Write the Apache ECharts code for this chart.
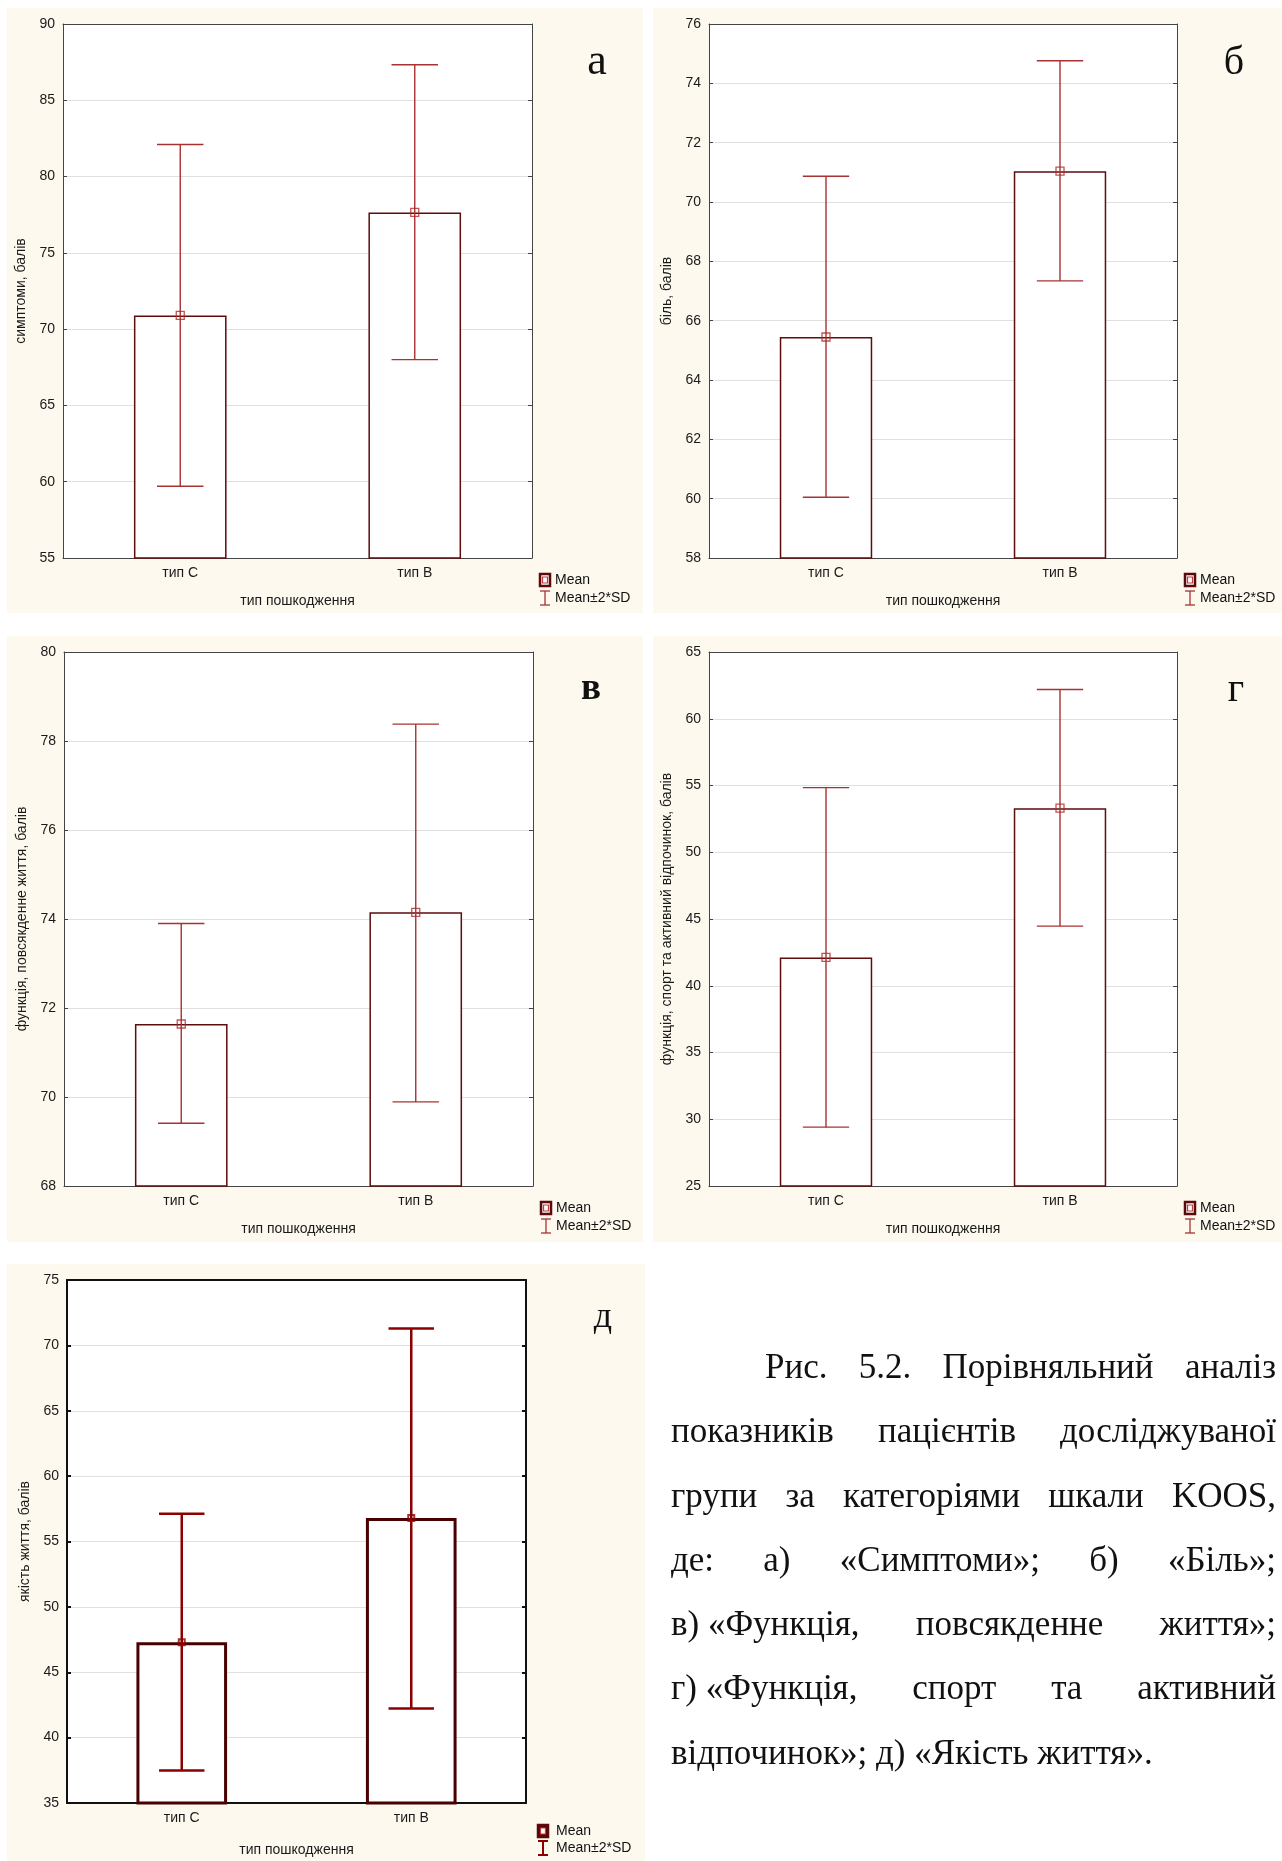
<!DOCTYPE html>
<html><head><meta charset="utf-8">
<script src="https://cdn.jsdelivr.net/npm/echarts/dist/echarts.min.js"></script>
<style>
html,body{margin:0;padding:0;background:#fff;}
#chart{position:absolute;left:0;top:0;width:1282px;height:1861px;}
#caption{position:absolute;left:671px;top:1335px;width:605px;font-family:"Liberation Serif","Times New Roman",serif;font-size:35px;line-height:64.3px;color:#111;}
#caption .l{text-align:justify;text-align-last:justify;}
#caption .first{padding-left:94px;}
#caption .last{text-align:left;text-align-last:left;}
#caption .nb{display:inline-block;white-space:pre;}
</style></head>
<body>
<div id="chart"></div>
<div id="caption">
<div class="l first">Рис. 5.2. Порівняльний аналіз</div>
<div class="l">показників пацієнтів досліджуваної</div>
<div class="l">групи за категоріями шкали KOOS,</div>
<div class="l">де: а) «Симптоми»; б) «Біль»;</div>
<div class="l"><span class="nb">в) «Функція,</span> повсякденне життя»;</div>
<div class="l"><span class="nb">г) «Функція,</span> спорт та активний</div>
<div class="l last">відпочинок»; д) «Якість життя».</div>
</div>
<script>
// ---- data ----
const categories = ['тип С', 'тип В'];
const meanSymptoms = [70.9, 77.65];
const lowSymptoms = [59.7, 68.0];
const highSymptoms = [82.1, 87.33];
const meanPain = [65.45, 71.04];
const lowPain = [60.05, 67.34];
const highPain = [70.87, 74.76];
const meanDaily = [71.64, 74.15];
const lowDaily = [69.41, 69.89];
const highDaily = [73.9, 78.38];
const meanSport = [42.12, 53.3];
const lowSport = [29.41, 44.47];
const highSport = [54.84, 62.19];
const meanQol = [47.3, 56.8];
const lowQol = [37.48, 42.22];
const highQol = [57.12, 71.3];
const yTitles = ['симптоми, балів', 'біль, балів', 'функція, повсякденне життя, балів', 'функція, спорт та активний відпочинок, балів', 'якість життя, балів'];
const xTitle = 'тип пошкодження';
const yMins = [55, 58, 68, 25, 35];
const yMaxs = [90, 76, 80, 65, 75];
const ySteps = [5, 2, 2, 5, 5];
const panelLetters = ['а', 'б', 'в', 'г', 'д'];
const legendNames = ['Mean', 'Mean±2*SD'];

const means = [meanSymptoms, meanPain, meanDaily, meanSport, meanQol];
const lows = [lowSymptoms, lowPain, lowDaily, lowSport, lowQol];
const highs = [highSymptoms, highPain, highDaily, highSport, highQol];

// ---- layout ----
const grids = [
  {left: 63, top: 24, width: 469, height: 534},
  {left: 709, top: 24, width: 468, height: 534},
  {left: 64, top: 652, width: 469, height: 534},
  {left: 709, top: 652, width: 468, height: 534},
  {left: 67, top: 1280, width: 459, height: 523}
];
const bgs = [[7, 8, 636, 605], [653, 8, 629, 605], [7, 636, 636, 606], [653, 636, 629, 606], [7, 1264, 638, 597]];
const letterPos = [[597, 62, 44, 'normal'], [1234, 63, 40, 'normal'], [591, 689, 37, 'bold'], [1236, 690, 40, 'normal'], [603, 1318, 36, 'normal']];
const FONT = '"Liberation Sans", Arial, sans-serif';
const CREAM = '#fdf9ef';

const xAxes = [], yAxes = [], series = [], graphics = [];
grids.forEach((g, i) => {
  const thick = i === 4;
  const frame = thick ? '#111' : '#444';
  const frameW = thick ? 2 : 1;
  const barBorder = thick ? '#4a0000' : '#5e0c0c';
  const errColor = thick ? '#8b0000' : '#a83232';
  const errW = thick ? 2.5 : 1.4;
  const tickStyle = {inside: true, length: 4, lineStyle: {color: frame, width: frameW}};
  xAxes.push({
    type: 'category', gridIndex: i, data: categories, position: 'bottom',
    axisLine: {lineStyle: {color: frame, width: frameW}},
    axisTick: Object.assign({alignWithLabel: true}, tickStyle),
    axisLabel: {fontSize: 14, color: '#1a1a1a', margin: 8, fontFamily: FONT},
    name: xTitle, nameLocation: 'middle', nameGap: thick ? 40 : 36,
    nameTextStyle: {fontSize: 14, color: '#1a1a1a', fontFamily: FONT}
  });
  xAxes.push({
    type: 'category', gridIndex: i, data: categories, position: 'top',
    axisLine: {lineStyle: {color: frame, width: frameW}},
    axisTick: Object.assign({alignWithLabel: true}, tickStyle),
    axisLabel: {show: false}
  });
  yAxes.push({
    type: 'value', gridIndex: i, min: yMins[i], max: yMaxs[i], interval: ySteps[i], position: 'left',
    axisLine: {show: true, lineStyle: {color: frame, width: frameW}},
    axisTick: {show: true, inside: true, length: 4, lineStyle: {color: frame, width: frameW}},
    axisLabel: {fontSize: 14, color: '#1a1a1a', margin: 8, fontFamily: FONT},
    splitLine: {show: true, lineStyle: {color: '#e0e0e0', width: 1.2}},
    name: yTitles[i], nameLocation: 'middle', nameGap: 35,
    nameTextStyle: {fontSize: 14, color: '#1a1a1a', fontFamily: FONT}
  });
  yAxes.push({
    type: 'value', gridIndex: i, min: yMins[i], max: yMaxs[i], interval: ySteps[i], position: 'right',
    axisLine: {show: true, lineStyle: {color: frame, width: frameW}},
    axisTick: {show: true, inside: true, length: 4, lineStyle: {color: frame, width: frameW}},
    axisLabel: {show: false}, splitLine: {show: false}
  });
  series.push({
    type: 'bar', xAxisIndex: 2 * i, yAxisIndex: 2 * i, data: means[i], barWidth: '39.5%',
    itemStyle: {color: '#ffffff', borderColor: barBorder, borderWidth: thick ? 3 : 1.5},
    silent: true, z: 2
  });
  series.push({
    type: 'custom', xAxisIndex: 2 * i, yAxisIndex: 2 * i, z: 3, silent: true,
    data: categories.map((c, k) => [k, lows[i][k], highs[i][k]]),
    renderItem: function (params, api) {
      const x = api.value(0);
      const pHi = api.coord([x, api.value(2)]);
      const pLo = api.coord([x, api.value(1)]);
      const half = api.size([1, 0])[0] * 0.099;
      const st = {stroke: errColor, lineWidth: errW};
      return {type: 'group', children: [
        {type: 'line', shape: {x1: pHi[0], y1: pHi[1], x2: pLo[0], y2: pLo[1]}, style: st},
        {type: 'line', shape: {x1: pHi[0] - half, y1: pHi[1], x2: pHi[0] + half, y2: pHi[1]}, style: st},
        {type: 'line', shape: {x1: pLo[0] - half, y1: pLo[1], x2: pLo[0] + half, y2: pLo[1]}, style: st}
      ]};
    }
  });
  series.push({
    type: 'scatter', xAxisIndex: 2 * i, yAxisIndex: 2 * i, data: means[i], z: 4, silent: true,
    symbol: 'rect', symbolSize: thick ? 6 : 8,
    itemStyle: {color: 'rgba(255,255,255,0)', borderColor: thick ? '#8b0000' : '#b02828', borderWidth: thick ? 2 : 1.3}
  });

  // backgrounds
  const b = bgs[i];
  graphics.push({type: 'rect', z: -100, silent: true, shape: {x: b[0], y: b[1], width: b[2], height: b[3]}, style: {fill: CREAM}});
  graphics.push({type: 'rect', z: -99, silent: true, shape: {x: g.left, y: g.top, width: g.width, height: g.height}, style: {fill: '#ffffff'}});
  // panel letter
  const lp = letterPos[i];
  graphics.push({type: 'text', z: 100, x: lp[0], y: lp[1], style: {text: panelLetters[i], fill: '#111', font: lp[3] + ' ' + lp[2] + 'px "Liberation Serif", "Times New Roman", serif', textAlign: 'center', textVerticalAlign: 'middle'}});
  // legend
  const R = g.left + g.width, B = g.top + g.height;
  const ix = thick ? R + 11 : R + 7;
  const tx = thick ? R + 30 : R + 23;
  const y1 = thick ? B + 28 : B + 22;
  const y2 = thick ? B + 45 : B + 40;
  graphics.push({type: 'rect', z: 100, shape: {x: ix + 1, y: y1 - 6, width: 10, height: 12}, style: {fill: thick ? '#5a0000' : '#fff', stroke: '#5a0a0a', lineWidth: 2.5}});
  graphics.push({type: 'rect', z: 101, shape: {x: ix + 3.5, y: y1 - 3, width: 5, height: 6}, style: {fill: '#fff', stroke: '#c03a3a', lineWidth: 1.2}});
  graphics.push({type: 'text', z: 100, x: tx, y: y1, style: {text: legendNames[0], fill: '#111', font: '14px ' + FONT, textVerticalAlign: 'middle'}});
  const ec = thick ? '#8b0000' : '#a83232';
  const ew = thick ? 2 : 1.3;
  graphics.push({type: 'line', z: 100, shape: {x1: ix + 6, y1: y2 - 7, x2: ix + 6, y2: y2 + 7}, style: {stroke: ec, lineWidth: ew}});
  graphics.push({type: 'line', z: 100, shape: {x1: ix + 1, y1: y2 - 7, x2: ix + 11, y2: y2 - 7}, style: {stroke: ec, lineWidth: ew}});
  graphics.push({type: 'line', z: 100, shape: {x1: ix + 1, y1: y2 + 7, x2: ix + 11, y2: y2 + 7}, style: {stroke: ec, lineWidth: ew}});
  graphics.push({type: 'text', z: 100, x: tx, y: y2, style: {text: legendNames[1], fill: '#111', font: '14px ' + FONT, textVerticalAlign: 'middle'}});
});

const chart = echarts.init(document.getElementById('chart'), null, {renderer: 'canvas'});
chart.setOption({
  animation: false,
  backgroundColor: '#ffffff',
  grid: grids.map(g => Object.assign({show: false, containLabel: false}, g)),
  xAxis: xAxes,
  yAxis: yAxes,
  series: series,
  graphic: {elements: graphics}
});
</script>
</body></html>
